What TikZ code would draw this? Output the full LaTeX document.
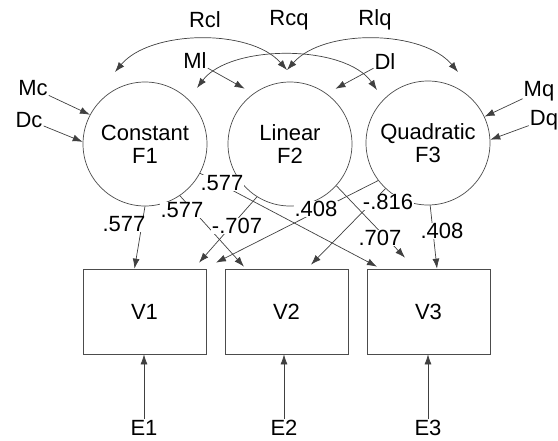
\documentclass[tikz,border=0pt]{standalone}
\usepackage{fontspec}
\setmainfont{Liberation Sans}
\usetikzlibrary{arrows.meta}

\begin{document}
\begin{tikzpicture}[
      x=1pt, y=-1pt,
      every node/.style={font=\fontsize{22}{23}\selectfont, inner sep=1pt},
      factor/.style={circle, draw=black!70, line width=0.7pt, minimum size=124pt, inner sep=0pt, align=center},
      indicator/.style={rectangle, draw=black!70, line width=0.7pt, minimum width=123pt, minimum height=85pt},
      coef/.style={fill=white, inner sep=0.5pt},
      arr/.style={draw=black!75, line width=0.7pt, -{Latex[length=10pt,width=7pt]}},
      cov/.style={arr, {Latex[length=10pt,width=7pt]}-{Latex[length=10pt,width=7pt]}}
    ]
    \useasboundingbox (0,0) rectangle (558,440);

    % growth factors
    \node[factor] (F1) at (145,144) {Constant\\F1};
    \node[factor] (F2) at (290,144) {Linear\\F2};
    \node[factor] (F3) at (428,143) {Quadratic\\F3};

    % observed scores and their errors
    \node[indicator] (V1) at (144.5,311.5) {V1};
    \node[indicator] (V2) at (286.5,311.5) {V2};
    \node[indicator] (V3) at (428.5,311.5) {V3};
    \node (E1) at (144,428) {E1};
    \node (E2) at (284,428) {E2};
    \node (E3) at (428,428) {E3};
    \foreach \i in {1,2,3}
        \draw[arr] (E\i) -- (E\i |- V\i.south);

    % means and disturbances
    \node (Mc) at (33,88) {Mc};
    \node (Dc) at (29,120) {Dc};
    \node (Ml) at (195,61) {Ml};
    \node (Dl) at (385,62) {Dl};
    \node (Mq) at (539,91) {Mq};
    \node (Dq) at (544,120) {Dq};
    \draw[arr] (Mc) -- (F1.152);
    \draw[arr] (Dc) -- (F1.178);
    \draw[arr] (Mq) -- (F3.25);
    \draw[arr] (Dq) -- (F3.3);
    \draw[arr, shorten >=10pt] (Ml) -- (F2.126);
    \draw[arr, shorten >=10pt] (Dl) -- (F2.54);

    % factor covariances
    \node (Rcl) at (205,20) {Rcl};
    \node (Rcq) at (289,20) {Rcq};
    \node (Rlq) at (375,20) {Rlq};
    \coordinate (a1) at (115,72);
    \coordinate (a2) at (287,70);
    \coordinate (a3) at (458,72);
    \coordinate (b1) at (197,88);
    \coordinate (b3) at (377,90);
    \draw[cov] (a1) .. controls (150,30) and (250,28) .. (a2);
    \draw[cov] (a2) .. controls (324,28) and (423,30) .. (a3);
    \draw[cov] (b1) .. controls (230,44) and (345,44) .. (b3);

    % loadings
    \draw[arr] (F1.-90) -- ([xshift=-10pt]V1.north);
    \draw[arr] (F1.-56) -- ([xshift=-42.5pt,yshift=2pt]V2.north);
    \draw[arr] (F1.-28) -- ([xshift=-51.5pt,yshift=2pt]V3.north);
    \draw[arr] (F2.-122) -- ([xshift=54.5pt,yshift=6pt]V1.north);
    \draw[arr] (F2.-42) -- ([xshift=-23.5pt,yshift=11pt]V3.north);
    \draw[arr] (F3.-143) -- ([xshift=71.5pt,yshift=6pt]V1.north);
    \draw[arr] (F3.-133) -- ([xshift=24.5pt,yshift=4pt]V2.north);
    \draw[arr] (F3.-88) -- ([xshift=8.5pt]V3.north);

    \node[coef] (c11) at (124,224) {.577};
    \node[coef] (c12) at (182,210) {.577};
    \node[coef] (c13) at (222,183) {.577};
    \node[coef] (c21) at (237,226) {-.707};
    \node[coef] (c23) at (380,238) {.707};
    \node[coef] (c31) at (316,209) {.408};
    \node[coef] (c32) at (388,202) {-.816};
    \node[coef] (c33) at (442,231) {.408};

\end{tikzpicture}
\end{document}
